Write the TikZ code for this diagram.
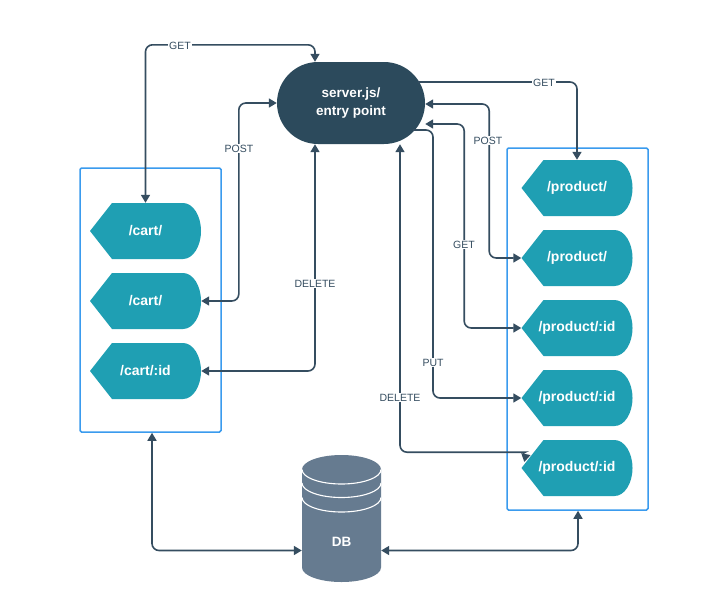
\documentclass[tikz,border=0pt]{standalone}
\usepackage{fontspec}
\setmainfont{Liberation Sans}
\usetikzlibrary{arrows.meta}
\definecolor{linec}{HTML}{354D60}
\definecolor{srvc}{HTML}{2C4A5C}
\definecolor{tealc}{HTML}{1F9FB3}
\definecolor{dbc}{HTML}{667B90}
\definecolor{boxc}{HTML}{3A9BEE}
\tikzset{
  tagnode/.style={rectangle,inner sep=0pt,minimum width=111pt,minimum height=56pt,
    text=white,font=\fontsize{14}{16}\selectfont\bfseries,
    path picture={\fill[tealc] (path picture bounding box.west)
      -- ([xshift=22pt]path picture bounding box.north west)
      -- ([xshift=-18pt]path picture bounding box.north east)
      arc[start angle=90,end angle=-90,x radius=18pt,y radius=28pt]
      -- ([xshift=22pt]path picture bounding box.south west) -- cycle;}},
  srvnode/.style={rectangle,rounded corners=41pt,fill=srvc,inner sep=0pt,minimum width=148pt,minimum height=82pt,
    text=white,align=center,font=\fontsize{13.5}{18}\selectfont\bfseries},
  boxnode/.style={rectangle,draw=boxc,line width=1.5pt,rounded corners=1.5pt,inner sep=0pt,fill=white},
  dbnode/.style={rectangle,inner sep=0pt,minimum width=79pt,minimum height=127pt,
    path picture={
      \coordinate (nw) at (path picture bounding box.north west);
      \fill[dbc] ([yshift=-14.5pt]nw) arc[start angle=180,end angle=0,x radius=39.5pt,y radius=14.5pt]
        -- ([shift={(79pt,-112.5pt)}]nw) arc[start angle=0,end angle=-180,x radius=39.5pt,y radius=14.5pt] -- cycle;
      \draw[white,line width=1.1pt] ([yshift=-14.5pt]nw) arc[start angle=180,end angle=360,x radius=39.5pt,y radius=14.5pt];
      \draw[white,line width=1.1pt] ([yshift=-28pt]nw) arc[start angle=180,end angle=360,x radius=39.5pt,y radius=14.5pt];
      \draw[white,line width=1.1pt] ([yshift=-42.5pt]nw) arc[start angle=180,end angle=360,x radius=39.5pt,y radius=14.5pt];
    }},
  dbtext/.style={text=white,inner sep=0pt,font=\fontsize{13.5}{16}\selectfont\bfseries},
  conn/.style={draw=linec,line width=1.6pt,rounded corners=7pt},
  both/.style={{Stealth[length=8pt,width=9pt,inset=0pt]}-{Stealth[length=8pt,width=9pt,inset=0pt]}},
  endtip/.style={-{Stealth[length=8pt,width=9pt,inset=0pt]}},
  lab/.style={fill=white,text=linec,inner xsep=1.5pt,inner ysep=1pt,font=\fontsize{10.5}{12}\selectfont}
}
\begin{document}
\begin{tikzpicture}[x=1pt,y=-1pt]
\useasboundingbox[fill=white] (0,0) rectangle (722,603);
% containers
\node[boxnode,minimum width=141pt,minimum height=264pt] (cartbox) at (150.5,300) {};
\node[boxnode,minimum width=141pt,minimum height=362pt] (prodbox) at (577.5,329) {};
% nodes
\node[srvnode] (srv) at (351,103) {server.js/\\entry point};
\node[tagnode] (c1) at (145.5,231) {/cart/};
\node[tagnode] (c2) at (145.5,301) {/cart/};
\node[tagnode] (c3) at (145.5,371) {/cart/:id};
\node[tagnode] (p1) at (577,188) {/product/};
\node[tagnode] (p2) at (577,258) {/product/};
\node[tagnode] (p3) at (577,328) {/product/:id};
\node[tagnode] (p4) at (577,398) {/product/:id};
\node[tagnode] (p5) at (577,468) {/product/:id};
\node[dbnode] (db) at (341.5,518.5) {};
\node[dbtext] (dbl) at (341.5,542) {DB};
% connectors
\draw[conn,both] (c1.north) -- ++(0,-158) -| ([xshift=-36pt]srv.north);
\draw[conn,both] (srv.west) -- ++(-38,0) |- (c2.east);
\draw[conn,both] ([xshift=-36pt]srv.south) |- (c3.east);
\draw[conn,endtip] ([shift={(67,-21)}]srv.center) -| (p1.north);
\draw[conn,both] ([shift={(0,1)}]srv.east) -- ++(64,0) |- (p2.west);
\draw[conn,both] ([shift={(0,21)}]srv.east) -- ++(39,0) |- (p3.west);
\draw[conn,endtip] ([shift={(62,27)}]srv.center) -- ++(20,0) |- (p4.west);
\draw[conn,both] ([xshift=49pt]srv.south) -- ++(0,308) -- ++(118,0)
   .. controls +(3,0) and +(1,-5) .. ([shift={(3,-6)}]p5.west);
\draw[conn,both] ([xshift=1.5pt]cartbox.south) |- ([yshift=-32pt]db.west);
\draw[conn,both] ([yshift=-32pt]db.east) -| ([xshift=0.5pt]prodbox.south);
% labels
\node[lab] (l1) at (180,45.7) {GET};
\node[lab] (l2) at (239,148.7) {POST};
\node[lab] (l3) at (315,283.7) {DELETE};
\node[lab] (l4) at (544,82.7) {GET};
\node[lab] (l5) at (488,140.7) {POST};
\node[lab] (l6) at (464,244.7) {GET};
\node[lab] (l7) at (433,362.7) {PUT};
\node[lab] (l8) at (400,397.7) {DELETE};
\end{tikzpicture}
\end{document}
